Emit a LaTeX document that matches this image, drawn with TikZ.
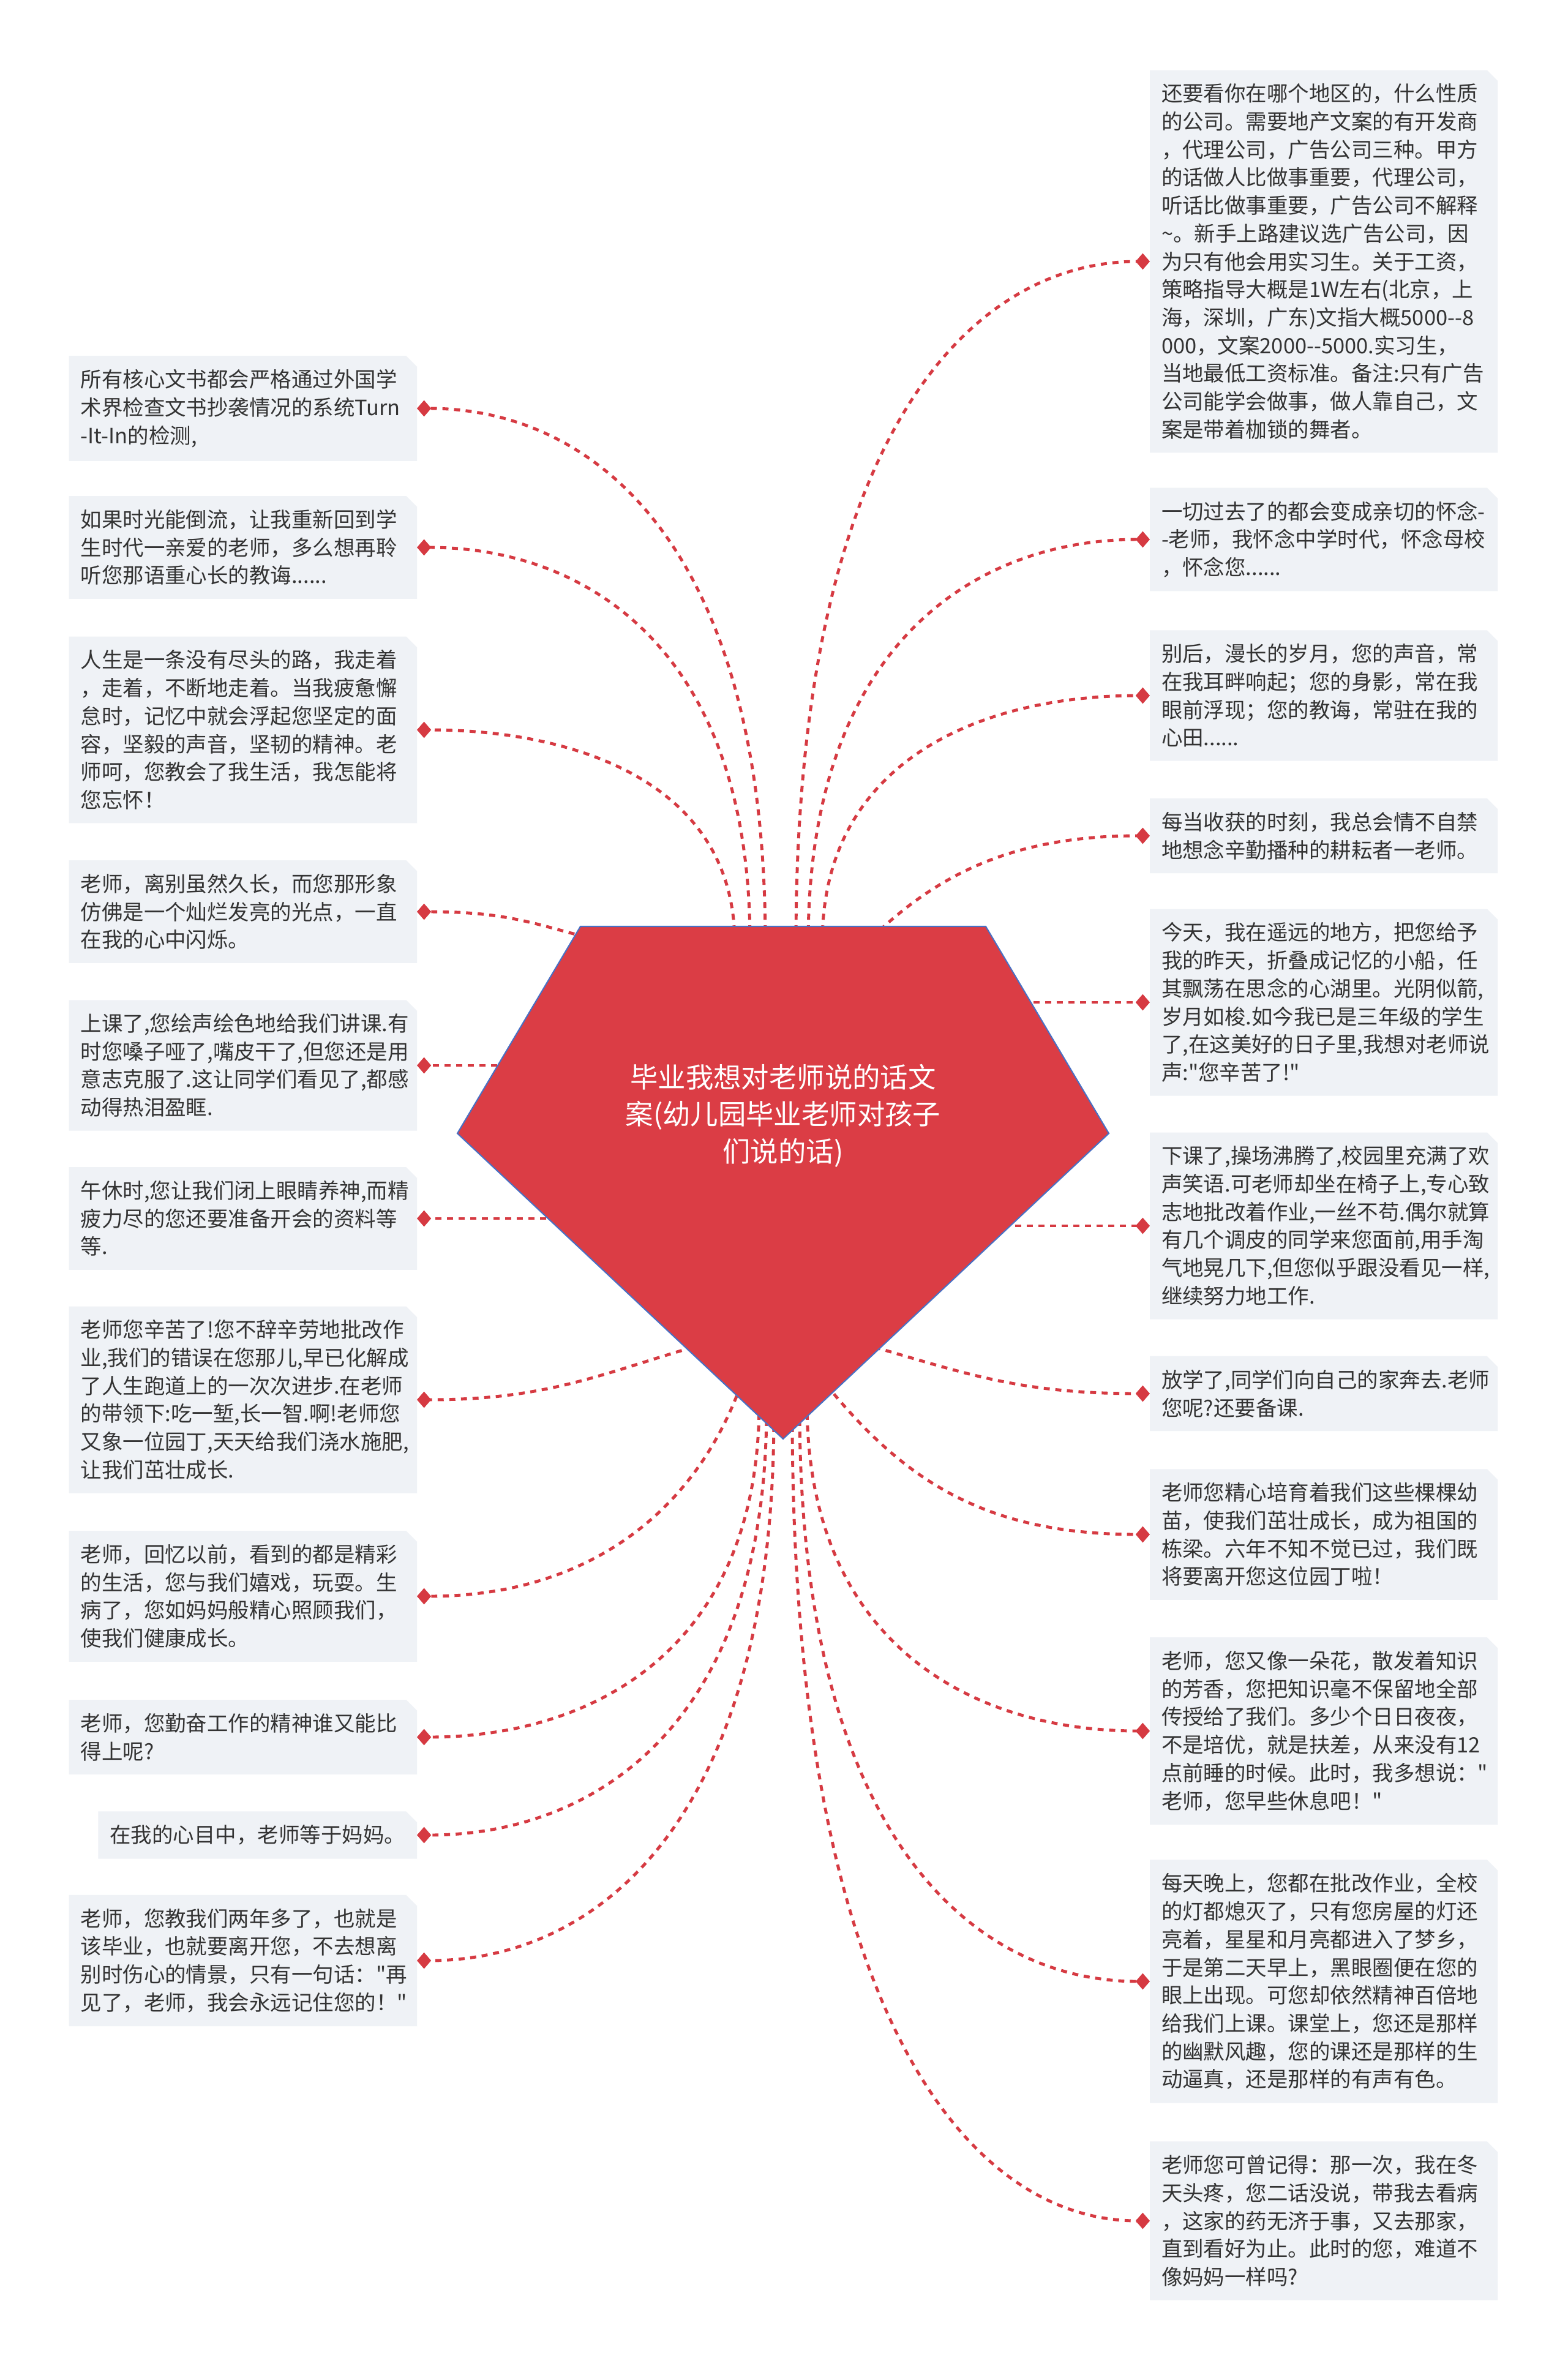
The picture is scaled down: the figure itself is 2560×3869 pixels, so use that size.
\documentclass[tikz,border=0pt]{standalone}
\usepackage{fontspec}
\setmainfont{Noto Sans CJK SC}
\newfontfamily\cnfont{Noto Sans CJK SC}
\usepackage{tikz}
\usetikzlibrary{calc,arrows.meta,backgrounds}
\definecolor{rootred}{RGB}{219,61,69}
\definecolor{rootedge}{RGB}{72,112,196}
\definecolor{leaffill}{RGB}{239,242,246}
\definecolor{leaftext}{RGB}{51,51,51}
\definecolor{linkred}{RGB}{214,58,66}

\tikzset{
  roottext/.style={font=\cnfont\fontsize{12.9pt}{17.2pt}\selectfont, text=white, align=center, inner sep=0pt},
  leafbase/.style={font=\cnfont\fontsize{9.8pt}{13pt}\selectfont, text=leaftext, inner xsep=0.19cm, inner ysep=6.3pt, outer sep=0pt},
  leaf/.style={leafbase, text width=5.30cm, align=left},
  link/.style={linkred, line width=1.4pt, dash pattern=on 2.8pt off 2.6pt, -{Turned Square[length=6.6pt,width=7.6pt]}},
}

\begin{document}
\begin{tikzpicture}[x=0.01cm, y=-0.01cm]
    \useasboundingbox (0,0) rectangle (2560,3869);

    % Root title
    \node[roottext] (root) at (1279,1822) {毕业我想对老师说的话文\\案(幼儿园毕业老师对孩子\\们说的话)};

    % Left column
    \node[leaf, anchor=east] (L1) at (681,667) {所有核心文书都会严格通过外国学\\术界检查文书抄袭情况的系统Turn\\-It-In的检测,};
    \node[leaf, anchor=east] (L2) at (681,894) {如果时光能倒流，让我重新回到学\\生时代一亲爱的老师，多么想再聆\\听您那语重心长的教诲......};
    \node[leaf, anchor=east] (L3) at (681,1192) {人生是一条没有尽头的路，我走着\\，走着，不断地走着。当我疲惫懈\\怠时，记忆中就会浮起您坚定的面\\容，坚毅的声音，坚韧的精神。老\\师呵，您教会了我生活，我怎能将\\您忘怀！};
    \node[leaf, anchor=east] (L4) at (681,1489) {老师，离别虽然久长，而您那形象\\仿佛是一个灿烂发亮的光点，一直\\在我的心中闪烁。};
    \node[leaf, anchor=east] (L5) at (681,1740) {上课了,您绘声绘色地给我们讲课.有\\时您嗓子哑了,嘴皮干了,但您还是用\\意志克服了.这让同学们看见了,都感\\动得热泪盈眶.};
    \node[leaf, anchor=east] (L6) at (681,1990) {午休时,您让我们闭上眼睛养神,而精\\疲力尽的您还要准备开会的资料等\\等.};
    \node[leaf, anchor=east] (L7) at (681,2286) {老师您辛苦了!您不辞辛劳地批改作\\业,我们的错误在您那儿,早已化解成\\了人生跑道上的一次次进步.在老师\\的带领下:吃一堑,长一智.啊!老师您\\又象一位园丁,天天给我们浇水施肥,\\让我们茁壮成长.};
    \node[leaf, anchor=east] (L8) at (681,2607) {老师，回忆以前，看到的都是精彩\\的生活，您与我们嬉戏，玩耍。生\\病了，您如妈妈般精心照顾我们，\\使我们健康成长。};
    \node[leaf, anchor=east] (L9) at (681,2837) {老师，您勤奋工作的精神谁又能比\\得上呢?};
    \node[leafbase, anchor=east] (L10) at (681,2997) {在我的心目中，老师等于妈妈。};
    \node[leaf, anchor=east] (L11) at (681,3202) {老师，您教我们两年多了，也就是\\该毕业，也就要离开您，不去想离\\别时伤心的情景，只有一句话："再\\见了，老师，我会永远记住您的！"};

    % Right column
    \node[leaf, anchor=west] (R1) at (1878,427) {还要看你在哪个地区的，什么性质\\的公司。需要地产文案的有开发商\\，代理公司，广告公司三种。甲方\\的话做人比做事重要，代理公司，\\听话比做事重要，广告公司不解释\\\textasciitilde。新手上路建议选广告公司，因\\为只有他会用实习生。关于工资，\\策略指导大概是1W左右(北京，上\\海，深圳，广东)文指大概5000-{}-8\\000，文案2000-{}-5000.实习生，\\当地最低工资标准。备注:只有广告\\公司能学会做事，做人靠自己，文\\案是带着枷锁的舞者。};
    \node[leaf, anchor=west] (R2) at (1878,881) {一切过去了的都会变成亲切的怀念-\\-老师，我怀念中学时代，怀念母校\\，怀念您......};
    \node[leaf, anchor=west] (R3) at (1878,1136) {别后，漫长的岁月，您的声音，常\\在我耳畔响起；您的身影，常在我\\眼前浮现；您的教诲，常驻在我的\\心田......};
    \node[leaf, anchor=west] (R4) at (1878,1365) {每当收获的时刻，我总会情不自禁\\地想念辛勤播种的耕耘者一老师。};
    \node[leaf, anchor=west] (R5) at (1878,1637) {今天，我在遥远的地方，把您给予\\我的昨天，折叠成记忆的小船，任\\其飘荡在思念的心湖里。光阴似箭,\\岁月如梭.如今我已是三年级的学生\\了,在这美好的日子里,我想对老师说\\声:"您辛苦了!"};
    \node[leaf, anchor=west] (R6) at (1878,2002) {下课了,操场沸腾了,校园里充满了欢\\声笑语.可老师却坐在椅子上,专心致\\志地批改着作业,一丝不苟.偶尔就算\\有几个调皮的同学来您面前,用手淘\\气地晃几下,但您似乎跟没看见一样,\\继续努力地工作.};
    \node[leaf, anchor=west] (R7) at (1878,2276) {放学了,同学们向自己的家奔去.老师\\您呢?还要备课.};
    \node[leaf, anchor=west] (R8) at (1878,2506) {老师您精心培育着我们这些棵棵幼\\苗，使我们茁壮成长，成为祖国的\\栋梁。六年不知不觉已过，我们既\\将要离开您这位园丁啦！};
    \node[leaf, anchor=west] (R9) at (1878,2827) {老师，您又像一朵花，散发着知识\\的芳香，您把知识毫不保留地全部\\传授给了我们。多少个日日夜夜，\\不是培优，就是扶差，从来没有12\\点前睡的时候。此时，我多想说："\\老师，您早些休息吧！"};
    \node[leaf, anchor=west] (R10) at (1878,3236) {每天晚上，您都在批改作业，全校\\的灯都熄灭了，只有您房屋的灯还\\亮着，星星和月亮都进入了梦乡，\\于是第二天早上，黑眼圈便在您的\\眼上出现。可您却依然精神百倍地\\给我们上课。课堂上，您还是那样\\的幽默风趣，您的课还是那样的生\\动逼真，还是那样的有声有色。};
    \node[leaf, anchor=west] (R11) at (1878,3627) {老师您可曾记得：那一次，我在冬\\天头疼，您二话没说，带我去看病\\，这家的药无济于事，又去那家，\\直到看好为止。此时的您，难道不\\像妈妈一样吗?};

    \begin{pgfonlayer}{background}
    \fill[white] (0,0) rectangle (2560,3869);

    % Box fills with a cut corner
    \foreach \i in {1,...,11} {
        \fill[leaffill] (L\i.south west) -- (L\i.north west) -- ([xshift=-5pt]L\i.north east) -- ([yshift=-5pt]L\i.north east) -- (L\i.south east) -- cycle;
        \fill[leaffill] (R\i.south west) -- (R\i.north west) -- ([xshift=-5pt]R\i.north east) -- ([yshift=-5pt]R\i.north east) -- (R\i.south east) -- cycle;
    }

    % Links, left side
    \draw[link] ($(root)+(-29,-282)$) .. controls +(0,-655) and +(285,0) .. (L1.east);
    \draw[link] ($(root)+(-54,-282)$) .. controls +(0,-485) and +(272,0) .. (L2.east);
    \draw[link] ($(root)+(-79,-282)$) .. controls +(0,-261) and +(260,0) .. (L3.east);
    \draw[link] ($(root)+(-304,-287)$) .. controls +(-100,-25) and +(150,0) .. (L4.east);
    \draw[link] ($(root)+(-429,-82)$) -- (L5.east);
    \draw[link] ($(root)+(-349,168)$) -- (L6.east);
    \draw[link] ($(root)+(-129,373)$) .. controls +(-160,45) and +(220,0) .. (L7.east);
    \draw[link] ($(root)+(-69,440)$) .. controls +(-80,220) and +(265,0) .. (L8.east);
    \draw[link] ($(root)+(-39,468)$) .. controls +(0,410) and +(280,0) .. (L9.east);
    \draw[link] ($(root)+(-27,478)$) .. controls +(0,523) and +(285,0) .. (L10.east);
    \draw[link] ($(root)+(-15,488)$) .. controls +(0,670) and +(291,0) .. (L11.east);

    % Links, right side
    \draw[link] ($(root)+(21,-282)$) .. controls +(0,-835) and +(-289,0) .. (R1.west);
    \draw[link] ($(root)+(41,-282)$) .. controls +(0,-494) and +(-279,0) .. (R2.west);
    \draw[link] ($(root)+(64,-282)$) .. controls +(0,-303) and +(-268,0) .. (R3.west);
    \draw[link] ($(root)+(131,-277)$) .. controls +(110,-110) and +(-234,0) .. (R4.west);
    \draw[link] ($(root)+(371,-185)$) -- (R5.west);
    \draw[link] ($(root)+(341,180)$) -- (R6.west);
    \draw[link] ($(root)+(131,373)$) .. controls +(160,45) and +(-220,0) .. (R7.west);
    \draw[link] ($(root)+(71,440)$) .. controls +(130,160) and +(-264,0) .. (R8.west);
    \draw[link] ($(root)+(39,468)$) .. controls +(0,403) and +(-280,0) .. (R9.west);
    \draw[link] ($(root)+(27,478)$) .. controls +(0,702) and +(-286,0) .. (R10.west);
    \draw[link] ($(root)+(15,488)$) .. controls +(0,988) and +(-292,0) .. (R11.west);

    % Pentagon behind the title
    \filldraw[fill=rootred, draw=rootedge, line width=0.6pt] ($(root)+(-331,-309)$) -- ($(root)+(331,-309)$) -- ($(root)+(532,29)$) -- ($(root)+(0,528)$) -- ($(root)+(-532,29)$) -- cycle;
    \end{pgfonlayer}
\end{tikzpicture}
\end{document}
